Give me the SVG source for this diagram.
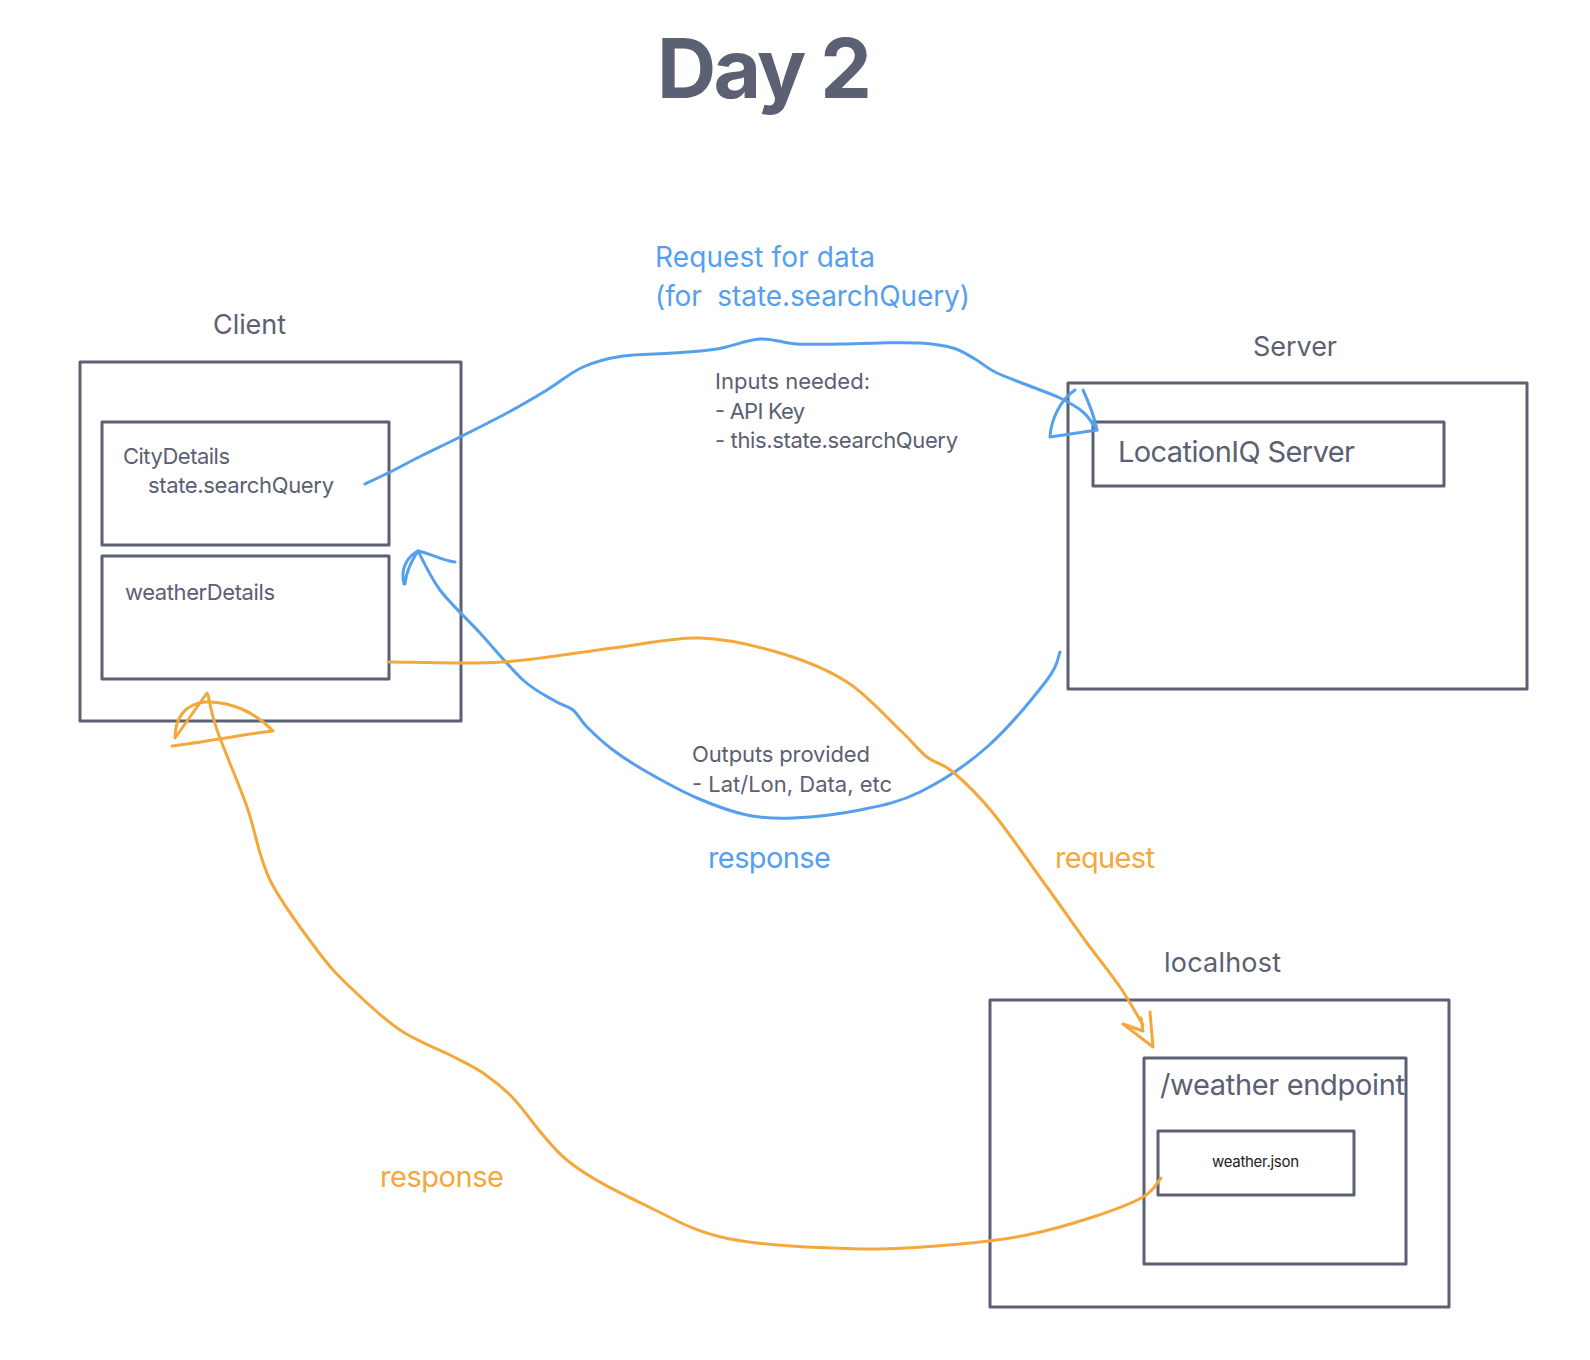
<svg xmlns="http://www.w3.org/2000/svg" width="1590" height="1360" viewBox="0 0 1590 1360">
<style>
.box{fill:none;stroke:#5b6073;stroke-width:3;stroke-linejoin:round}
.t{font-family:Inter,"Noto Sans","Liberation Sans",sans-serif;fill:#5b6073;white-space:pre}
.blue{fill:none;stroke:#55a0ee;stroke-width:3;stroke-linecap:round;stroke-linejoin:round}
.orange{fill:none;stroke:#f4a83c;stroke-width:3;stroke-linecap:round;stroke-linejoin:round}
.tb{fill:#55a0ee}
.to{fill:#f4a83c}
</style>
<rect width="1590" height="1360" fill="#ffffff"/>
<text class="t" x="657" y="98" font-size="82" font-weight="bold" textLength="215">Day 2</text>

<g id="client">
<rect class="box" x="80" y="362" width="381" height="359"/>
<text class="t" x="213" y="334" font-size="27" textLength="73">Client</text>
</g>
<g id="cityDetails">
<rect class="box" x="102" y="422" width="287" height="123"/>
<text class="t" x="123" y="464" font-size="22" textLength="107">CityDetails</text>
<text class="t" x="148" y="493" font-size="22" textLength="186">state.searchQuery</text>
</g>
<g id="weatherDetails">
<rect class="box" x="102" y="556" width="287" height="123"/>
<text class="t" x="125" y="600" font-size="22" textLength="150">weatherDetails</text>
</g>
<g id="server">
<rect class="box" x="1068" y="383" width="459" height="306"/>
<text class="t" x="1253" y="356" font-size="27" textLength="84">Server</text>
</g>
<g id="locationIQ">
<rect class="box" x="1093" y="422" width="351" height="64"/>
<text class="t" x="1118" y="462" font-size="29" textLength="237">LocationIQ Server</text>
</g>
<g id="localhost">
<rect class="box" x="990" y="1000" width="459" height="307"/>
<text class="t" x="1164" y="972" font-size="27" textLength="117">localhost</text>
</g>
<g id="weatherEndpoint">
<rect class="box" x="1144" y="1058" width="262" height="206"/>
<text class="t" x="1160" y="1095" font-size="29" textLength="245">/weather endpoint</text>
</g>
<g id="weatherJson">
<rect class="box" x="1158" y="1131" width="196" height="64"/>
<text class="t" x="1212" y="1167" font-size="15" textLength="87" style="fill:#222">weather.json</text>
</g>

<g id="connectors">
<path class="blue" d="M365,484 C369.2,482 380.3,476.8 390,472 C399.7,467.2 411.3,460.8 423,455 C434.7,449.2 446,444 460,437 C474,430 492.5,420.8 507,413 C521.5,405.2 534.3,397.7 547,390 C559.7,382.3 570.3,372.7 583,367 C595.7,361.3 608,358.3 623,356 C638,353.7 657.3,354.2 673,353 C688.7,351.8 702.5,351.3 717,349 C731.5,346.7 746.7,339.8 760,339 C773.3,338.2 783.7,343.2 797,344 C810.3,344.8 826.2,344.2 840,344 C853.8,343.8 866.7,343.2 880,343 C893.3,342.8 907.8,342.2 920,343 C932.2,343.8 943.8,345.3 953,348 C962.2,350.7 968,355 975,359 C982,363 986.3,367.7 995,372 C1003.7,376.3 1016.2,380.7 1027,385 C1037.8,389.3 1050.7,393.5 1060,398 C1069.3,402.5 1076.8,406.7 1083,412 C1089.2,417.3 1094.7,427 1097,430"/>
<path class="blue" d="M1097,430 L1050,437 C1051,420 1060,400 1075,390 M1083,390 C1090,405 1095,420 1097,430"/>

<path class="blue" d="M1060,652 C1057.8,656.7 1059.2,664.2 1047,680 C1034.8,695.8 1008.2,728.3 987,747 C965.8,765.7 941.2,781.5 920,792 C898.8,802.5 881.2,805.7 860,810 C838.8,814.3 811.8,817.2 793,818 C774.2,818.8 763,818.3 747,815 C731,811.7 713.7,805.2 697,798 C680.3,790.8 661,780 647,772 C633,764 623,757.5 613,750 C603,742.5 593.7,733.7 587,727 C580.3,720.3 578.3,714.3 573,710 C567.7,705.7 563.3,706 555,701 C546.7,696 535.5,691.3 523,680 C510.5,668.7 493.8,648 480,633 C466.2,618 450.3,603.7 440,590 C429.7,576.3 421.7,557.5 418,551"/>
<path class="blue" d="M418,551 C430,553 440,560 455,562 M418,551 C408,556 400,568 404,584 M418,551 C412,560 406,572 405,584"/>

<path class="orange" d="M389,662 C408,662 465.7,664.3 503,662 C540.3,659.7 580.2,652 613,648 C645.8,644 672.2,637.2 700,638 C727.8,638.8 755.5,645.7 780,653 C804.5,660.3 827,669.2 847,682 C867,694.8 886.7,717.5 900,730 C913.3,742.5 918.2,750 927,757 C935.8,764 942,762.7 953,772 C964,781.3 977.3,793.8 993,813 C1008.7,832.2 1031.3,865.3 1047,887 C1062.7,908.7 1074.8,926.3 1087,943 C1099.2,959.7 1110.7,973.3 1120,987 C1129.3,1000.7 1139.2,1018.7 1143,1025"/>
<path class="orange" d="M1150,1012 L1153,1047 L1123,1024 L1143,1031 L1141,1018"/>

<path class="orange" d="M1161,1178 C1158,1181.2 1154.3,1190.5 1143,1197 C1131.7,1203.5 1112.3,1210.7 1093,1217 C1073.7,1223.3 1049.2,1230.5 1027,1235 C1004.8,1239.5 987.5,1241.7 960,1244 C932.5,1246.3 900.3,1249.8 862,1249 C823.7,1248.2 765.5,1246 730,1239 C694.5,1232 676,1220 649,1207 C622,1194 590.7,1179.2 568,1161 C545.3,1142.8 527.2,1112.7 513,1098 C498.8,1083.3 493.5,1080.2 483,1073 C472.5,1065.8 463.8,1062.2 450,1055 C436.2,1047.8 416.7,1041.3 400,1030 C383.3,1018.7 363.8,1000.3 350,987 C336.2,973.7 330.3,967.8 317,950 C303.7,932.2 281.7,903.8 270,880 C258.3,856.2 255.8,832 247,807 C238.2,782 223.5,748.7 217,730 C210.5,711.3 209.5,700.8 208,695"/>
<path class="orange" d="M207,693 L175,738 C175,718 185,704 205,702 C230,701 255,712 273,731 C240,735 205,742 172,746"/>
</g>

<text class="t tb" x="655" y="267" font-size="28" textLength="220">Request for data</text>
<text class="t tb" x="655" y="306" font-size="28" textLength="315">(for  state.searchQuery)</text>
<text class="t" x="715" y="389" font-size="22" textLength="155">Inputs needed:</text>
<text class="t" x="715" y="419" font-size="22" textLength="90">- API Key</text>
<text class="t" x="715" y="448" font-size="22" textLength="243">- this.state.searchQuery</text>
<text class="t" x="692" y="762" font-size="22" textLength="178">Outputs provided</text>
<text class="t" x="692" y="792" font-size="22" textLength="200">- Lat/Lon, Data, etc</text>
<text class="t tb" x="708" y="868" font-size="29" textLength="123">response</text>
<text class="t to" x="1055" y="868" font-size="29" textLength="100">request</text>
<text class="t to" x="380" y="1187" font-size="29" textLength="124">response</text>
</svg>
